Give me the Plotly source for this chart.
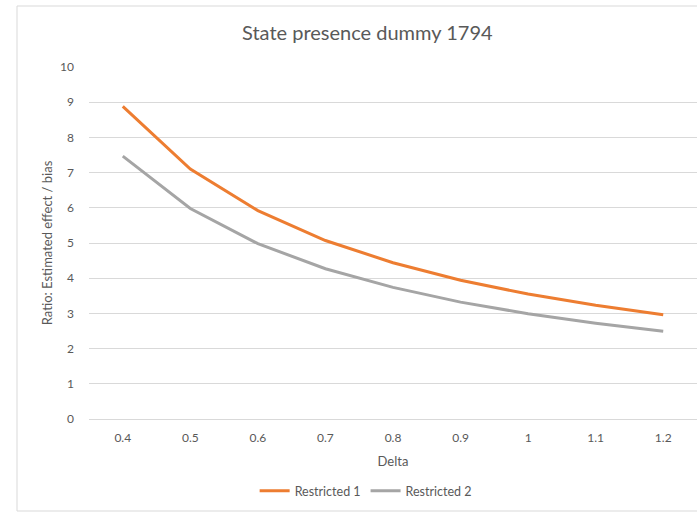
import plotly.graph_objects as go

categories = ["0.4", "0.5", "0.6", "0.7", "0.8", "0.9", "1", "1.1", "1.2"]
restricted_1 = [8.88, 7.10, 5.92, 5.07, 4.44, 3.94, 3.55, 3.23, 2.96]
restricted_2 = [7.47, 5.98, 4.98, 4.27, 3.74, 3.32, 2.99, 2.72, 2.49]
y_ticks = list(range(0, 11))

font_family = "Lato, 'Open Sans', sans-serif"
text_color = "#595959"

fig = go.Figure()
fig.add_trace(go.Scatter(x=categories, y=restricted_1, mode="lines", name="Restricted 1",
                         line=dict(color="#ED7D31", width=3)))
fig.add_trace(go.Scatter(x=categories, y=restricted_2, mode="lines", name="Restricted 2",
                         line=dict(color="#A5A5A5", width=3)))

fig.update_layout(
    width=697, height=513,
    margin=dict(l=89, r=0, t=67, b=94),
    paper_bgcolor="white", plot_bgcolor="white",
    font=dict(family=font_family, color=text_color, size=12),
    title=dict(text="State presence dummy 1794", x=0.527, xanchor="center",
               y=1 - 33 / 513, yanchor="middle",
               font=dict(size=20, color=text_color, family=font_family)),
    legend=dict(orientation="h", x=0.455, xanchor="center", y=-0.205, yanchor="middle",
                font=dict(size=12.5, color=text_color), itemwidth=30),
    xaxis=dict(type="category", range=[-0.5, 8.5], showgrid=False, showline=False, zeroline=False,
               ticks="", ticklabelstandoff=10,
               title=dict(text="Delta", font=dict(size=13, color=text_color), standoff=12),
               tickfont=dict(size=12, color=text_color)),
    yaxis=dict(range=[0, 10], tickvals=y_ticks, showgrid=True, gridcolor="#D9D9D9",
               gridwidth=1, zeroline=True, zerolinecolor="#D9D9D9", zerolinewidth=1,
               showline=False, ticks="", ticklabelstandoff=14,
               title=dict(text="Ratio: Estimated effect / bias", font=dict(size=13, color=text_color), standoff=4),
               tickfont=dict(size=12, color=text_color)),
    shapes=[dict(type="rect", xref="paper", yref="paper",
                 x0=(17 - 89) / 608, x1=1.05, y0=(419 - 511) / 352, y1=(419 - 6) / 352,
                 line=dict(color="#D9D9D9", width=1), fillcolor="rgba(0,0,0,0)", layer="below")],
)

fig.write_html("out.html")
